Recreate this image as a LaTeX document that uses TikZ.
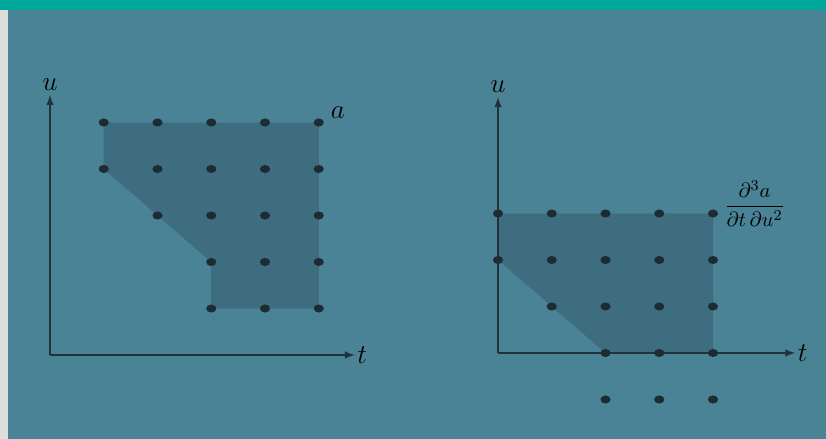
\documentclass[tikz,border=0pt]{standalone}
\usepackage{amsmath,amssymb}
\usepackage{tikz}
\definecolor{hintergrund}{RGB}{74,130,150}
\definecolor{flaeche}{RGB}{62,109,128}
\definecolor{punkt}{RGB}{30,43,50}
\definecolor{achse}{RGB}{34,50,60}
\definecolor{balken}{RGB}{0,168,155}
\definecolor{rand}{RGB}{221,221,221}
\usetikzlibrary{arrows, shapes}
\tikzstyle{dot} = [fill=punkt, ellipse, minimum width=0.19cm, minimum height=0.15cm, inner sep=0pt]
\tikzstyle{achsenpfeil} = [draw=achse, line width=0.8pt, ->]

\begin{document}
\begin{tikzpicture}[x=1cm, y=0.865cm,
			>=latex,   %Pfeilspitzen
			font=\fontsize{15}{18}\selectfont]
			% Hintergrund und Rahmen
			\useasboundingbox (0cm,0cm) rectangle (15.367cm,8.167cm);
			\fill[hintergrund] (0cm,0cm) rectangle (15.367cm,8.167cm);
			\fill[balken] (0cm,7.981cm) rectangle (15.367cm,8.167cm);
			\fill[rand] (0cm,0cm) rectangle (0.149cm,7.981cm);
			% linkes Gitter: a
			\begin{scope}[shift={(0.930cm,1.563cm)}]
				\fill[flaeche] (1,5) -- (5,5) -- (5,1) -- (3,1) -- (3,2) -- (1,4) -- cycle;
				\coordinate (lO) at (0,0);
				\coordinate (lT) at (5.67,0);
				\coordinate (lU) at (0,5.59);
				\draw[achsenpfeil] (lO) -- (lT) node[right, inner sep=1pt] (lt) {$t$};
				\draw[achsenpfeil] (lO) -- (lU) node[above, inner sep=2pt] (lu) {$u$};
				\foreach \x/\y in {1/5,2/5,3/5,4/5,5/5,1/4,2/4,3/4,4/4,5/4,2/3,3/3,4/3,5/3,3/2,4/2,5/2,3/1,4/1,5/1}{\node[dot] (l-\x-\y) at (\x,\y) {};} % Gitterpunkte
				\node[right, yshift=0.18cm] (la) at (l-5-5.east) {$a$};
			\end{scope}
			% rechtes Gitter: Ableitung
			\begin{scope}[shift={(9.265cm,1.600cm)}]
				\fill[flaeche] (0,3) -- (4,3) -- (4,0) -- (2,0) -- (0,2) -- cycle;
				\coordinate (rO) at (0,0);
				\coordinate (rT) at (5.53,0);
				\coordinate (rU) at (0,5.5);
				\draw[achsenpfeil] (rO) -- (rT) node[right, inner sep=1pt] (rt) {$t$};
				\draw[achsenpfeil] (rO) -- (rU) node[above, inner sep=2pt] (ru) {$u$};
				\foreach \x/\y in {0/3,1/3,2/3,3/3,4/3,0/2,1/2,2/2,3/2,4/2,1/1,2/1,3/1,4/1,2/0,3/0,4/0,2/-1,3/-1,4/-1}{\node[dot] (r-\x-\y) at (\x,\y) {};} % Gitterpunkte
				\node[anchor=base west, inner sep=0pt, xshift=0.1cm, yshift=0.03cm, font=\fontsize{11}{13}\selectfont] (rd) at (r-4-3.east) {$\displaystyle\frac{\partial^3 a}{\partial t\,\partial u^2}$};
			\end{scope}
\end{tikzpicture}
\end{document}
